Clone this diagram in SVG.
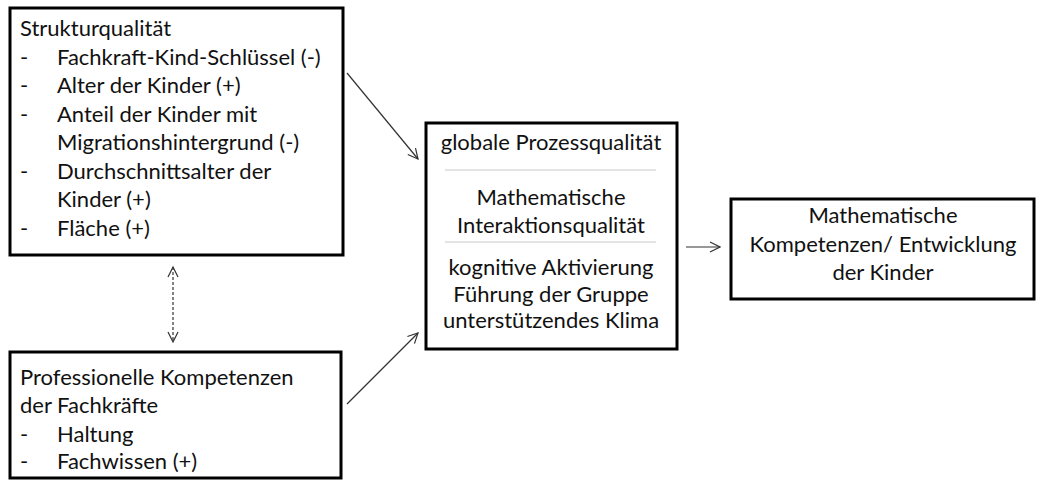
<svg xmlns="http://www.w3.org/2000/svg" width="1038" height="480" viewBox="0 0 1038 480">
  <style>
    .box { fill: #ffffff; stroke: #000000; stroke-width: 3; }
    .t { font-family: Lato, "Liberation Sans", sans-serif; font-size: 22px; fill: #111111; }
    .c { text-anchor: middle; }
    .sep { stroke: #c8c8c8; stroke-width: 1; }
    .link { stroke: #333333; stroke-width: 1.2; fill: none; }
    .dash { stroke-dasharray: 3 2; }
  </style>
  <defs>
    <marker id="head" viewBox="0 0 12 12" refX="11" refY="6" markerWidth="12" markerHeight="12" markerUnits="userSpaceOnUse" orient="auto-start-reverse">
      <path d="M1,1 L11,6 L1,11" fill="none" stroke="#333333" stroke-width="1.2"/>
    </marker>
  </defs>

  <rect width="1038" height="480" fill="#ffffff"/>

  <g id="strukturqualitaet">
    <rect class="box" x="10" y="8" width="333" height="247"/>
    <text class="t" x="20" y="36">Strukturqualität</text>
    <text class="t" x="20" y="64.5">-</text>
    <text class="t" x="57" y="64.5">Fachkraft-Kind-Schlüssel (-)</text>
    <text class="t" x="20" y="93">-</text>
    <text class="t" x="57" y="93">Alter der Kinder (+)</text>
    <text class="t" x="20" y="121.5">-</text>
    <text class="t" x="57" y="121.5">Anteil der Kinder mit</text>
    <text class="t" x="57" y="150">Migrationshintergrund (-)</text>
    <text class="t" x="20" y="178.5">-</text>
    <text class="t" x="57" y="178.5">Durchschnittsalter der</text>
    <text class="t" x="57" y="207">Kinder (+)</text>
    <text class="t" x="20" y="235.5">-</text>
    <text class="t" x="57" y="235.5">Fläche (+)</text>
  </g>

  <g id="professionelle-kompetenzen">
    <rect class="box" x="10" y="352" width="331" height="126"/>
    <text class="t" x="20" y="385">Professionelle Kompetenzen</text>
    <text class="t" x="20" y="413">der Fachkräfte</text>
    <text class="t" x="20" y="442">-</text>
    <text class="t" x="57" y="442">Haltung</text>
    <text class="t" x="20" y="469">-</text>
    <text class="t" x="57" y="469">Fachwissen (+)</text>
  </g>

  <g id="prozessqualitaet">
    <rect class="box" x="426" y="123" width="251" height="226"/>
    <text class="t c" x="551" y="150">globale Prozessqualität</text>
    <line class="sep" x1="445" y1="170" x2="656" y2="170"/>
    <text class="t c" x="551" y="205">Mathematische</text>
    <text class="t c" x="551" y="233">Interaktionsqualität</text>
    <line class="sep" x1="445" y1="242" x2="656" y2="242"/>
    <text class="t c" x="551" y="275">kognitive Aktivierung</text>
    <text class="t c" x="551" y="302">Führung der Gruppe</text>
    <text class="t c" x="551" y="328">unterstützendes Klima</text>
  </g>

  <g id="mathematische-kompetenzen">
    <rect class="box" x="731" y="199" width="303" height="100"/>
    <text class="t c" x="883" y="223">Mathematische</text>
    <text class="t c" x="883" y="252">Kompetenzen/ Entwicklung</text>
    <text class="t c" x="883" y="280">der Kinder</text>
  </g>

  <g id="connectors">
    <line class="link" x1="347" y1="73" x2="418" y2="159" marker-end="url(#head)"/>
    <line class="link" x1="347" y1="404" x2="418" y2="333" marker-end="url(#head)"/>
    <line class="link" x1="686" y1="247" x2="720" y2="247" marker-end="url(#head)"/>
    <line class="link dash" x1="173" y1="267" x2="173" y2="342" marker-start="url(#head)" marker-end="url(#head)"/>
  </g>
</svg>
